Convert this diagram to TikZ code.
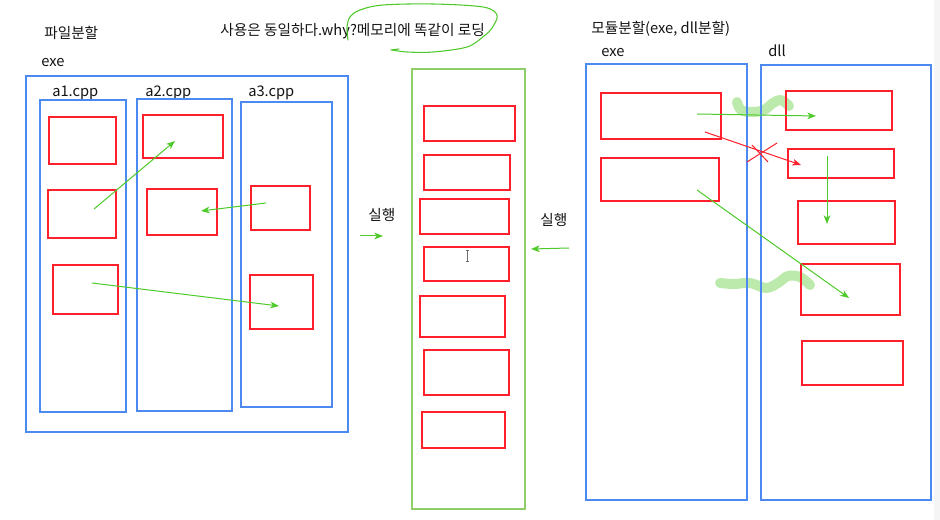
\documentclass[tikz,border=0pt]{standalone}
\usepackage{fontspec}
\setmainfont{Noto Sans CJK KR}
\usetikzlibrary{arrows.meta,fit}

\definecolor{boxblue}{RGB}{76,138,242}
\definecolor{boxred}{RGB}{255,32,44}
\definecolor{boxgreen}{RGB}{144,206,108}
\definecolor{arrowgreen}{RGB}{78,202,42}
\definecolor{marker}{RGB}{188,234,172}
\definecolor{cursorgray}{RGB}{110,110,110}

\tikzset{
  bluebox/.style={draw=boxblue, line width=0.95pt, inner sep=0pt, outer sep=0pt},
  greenbox/.style={draw=boxgreen, line width=1.1pt, inner sep=0pt, outer sep=0pt},
  redbox/.style={draw=boxred, line width=0.95pt, inner sep=0pt, outer sep=0pt},
  label/.style={font=\fontsize{11}{13}\selectfont, inner sep=0pt, anchor=base west, text=black!92},
  garrow/.style={draw=arrowgreen, line width=0.75pt, -{Stealth[length=6.5pt,width=5pt,inset=1.8pt]}},
  rarrow/.style={draw=boxred, line width=0.75pt, -{Stealth[length=6.5pt,width=5pt,inset=1.8pt]}},
  rstroke/.style={draw=boxred, line width=0.75pt},
  highlight/.style={draw=marker, line width=7.5pt, line cap=round, line join=round},
  loop/.style={draw=arrowgreen, line width=0.8pt, line cap=round},
}

\begin{document}
\begin{tikzpicture}[x=0.75pt,y=-0.75pt]
  \useasboundingbox (0,0) rectangle (940,520);
  \fill[white] (0,0) rectangle (940,520);
  \fill[black!4] (934,0) rectangle (940,520);

  % highlighter strokes over the exe/dll boundary
  \draw[highlight] plot[smooth, tension=0.6] coordinates
    {(737,102) (741,110) (752,112) (764,110) (773,103) (781,100) (789,106)};
  \draw[highlight] plot[smooth, tension=0.6] coordinates
    {(720,283) (734,284) (750,283) (766,288) (778,283) (788,276) (800,277) (810,285)};

  % ---------- file split ----------
  \node[label] (t-file) at (44,39) {파일분할};
  \node[label] (t-exe1) at (41,67) {exe};
  \node[bluebox, fit={(26,76) (348,432)}] (exe1) {};

  \node[label] (t-a1) at (52,97) {a1.cpp};
  \node[label] (t-a2) at (145,97) {a2.cpp};
  \node[label] (t-a3) at (248,97) {a3.cpp};
  \node[bluebox, fit={(40,100) (126,412)}] (a1) {};
  \node[bluebox, fit={(137,99) (232,411)}] (a2) {};
  \node[bluebox, fit={(241,102) (332,407)}] (a3) {};

  \node[redbox, fit={(49,117) (116,164)}] (a1f1) {};
  \node[redbox, fit={(48,190) (116,238)}] (a1f2) {};
  \node[redbox, fit={(53,265) (118,314)}] (a1f3) {};
  \node[redbox, fit={(143,115) (223,158)}] (a2f1) {};
  \node[redbox, fit={(147,189) (217,235)}] (a2f2) {};
  \node[redbox, fit={(251,186) (310,230)}] (a3f1) {};
  \node[redbox, fit={(250,275) (313,329)}] (a3f2) {};

  \coordinate (p1) at (94,209);   \coordinate (q1) at (175,141);
  \coordinate (p2) at (266,203);  \coordinate (q2) at (201,211);
  \coordinate (p3) at (92,283);   \coordinate (q3) at (279,306);
  \draw[garrow] (p1) -- (q1);
  \draw[garrow] (p2) -- (q2);
  \draw[garrow] (p3) -- (q3);

  % ---------- memory ----------
  \node[label] (t-same) at (220,36) {사용은 동일하다.why?메모리에 똑같이 로딩};
  \draw[loop] plot[smooth, tension=0.55] coordinates
    {(348,40) (347,27) (350,17) (360,10) (383,5) (433,4) (483,7) (497,15)
     (492,28) (484,36) (467,47) (433,52) (407,52) (392,50)};
  \draw[loop] (391,50) -- (399,49);

  \node[greenbox, fit={(412,69) (525,509)}] (mem) {};
  \node[redbox, fit={(424,106) (515,141)}] (m1) {};
  \node[redbox, fit={(424,155) (510,190)}] (m2) {};
  \node[redbox, fit={(420,199) (509,234)}] (m3) {};
  \node[redbox, fit={(424,247) (509,281)}] (m4) {};
  \node[redbox, fit={(420,296) (505,337)}] (m5) {};
  \node[redbox, fit={(424,350) (509,395)}] (m6) {};
  \node[redbox, fit={(422,412) (505,448)}] (m7) {};

  % text cursor
  \draw[cursorgray, line width=0.6pt] (467,250) -- (467,261)
    (465.5,250) -- (468.5,250) (465.5,261) -- (468.5,261);

  \node[label] (t-run1) at (368,221) {실행};
  \node[label] (t-run2) at (540,226) {실행};
  \coordinate (r1s) at (360,236); \coordinate (r1e) at (383,236);
  \coordinate (r2s) at (569,248); \coordinate (r2e) at (531,249);
  \draw[garrow] (r1s) -- (r1e);
  \draw[garrow] (r2s) -- (r2e);

  % ---------- module split ----------
  \node[label] (t-mod) at (591,34) {모듈분할(exe, dll분할)};
  \node[label] (t-exe2) at (601,57) {exe};
  \node[label] (t-dll) at (768,57) {dll};
  \node[bluebox, fit={(586,64) (747,500)}] (exe2) {};
  \node[bluebox, fit={(761,65) (931,500)}] (dll) {};

  \node[redbox, fit={(601,93) (721,139)}] (e1) {};
  \node[redbox, fit={(601,158) (719,201)}] (e2) {};
  \node[redbox, fit={(786,91) (892,130)}] (d1) {};
  \node[redbox, fit={(788,149) (894,178)}] (d2) {};
  \node[redbox, fit={(798,201) (895,244)}] (d3) {};
  \node[redbox, fit={(801,264) (900,315)}] (d4) {};
  \node[redbox, fit={(802,341) (903,385)}] (d5) {};

  \coordinate (s1) at (697,114); \coordinate (f1) at (816,116);
  \coordinate (s2) at (705,132); \coordinate (f2) at (801,165);
  \coordinate (s3) at (827,156); \coordinate (f3) at (827,224);
  \coordinate (s4) at (697,190); \coordinate (f4) at (849,298);
  \draw[garrow] (s1) -- (f1);
  \draw[rarrow] (s2) -- (f2);
  \draw[garrow] (s3) -- (f3);
  \draw[garrow] (s4) -- (f4);

  % cross-out mark on the red arrow
  \coordinate (x1) at (747,162); \coordinate (x2) at (777,143);
  \coordinate (x3) at (752,145); \coordinate (x4) at (768,162);
  \draw[rstroke] (x1) -- (x2);
  \draw[rstroke] (x3) -- (x4);
\end{tikzpicture}
\end{document}
